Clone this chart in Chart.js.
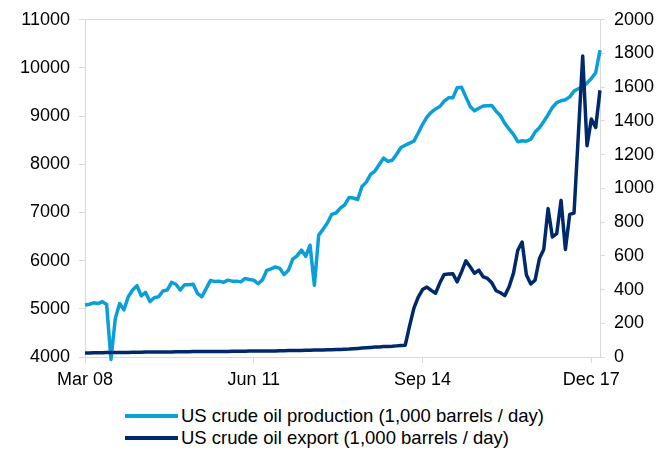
<!DOCTYPE html>
<html lang="en">
<head>
<meta charset="UTF-8">
<title>US crude oil production and export</title>
<script src="https://cdn.jsdelivr.net/npm/chart.js"></script>
<style>
    body { margin: 0; background: #fff; font-family: "Liberation Sans", Arial, sans-serif; }
    #janela { position: relative; width: 671px; height: 450px; }
    #grafico { position: absolute; left: 0; top: 0; width: 671px; height: 395px; }
    .legenda { position: absolute; left: 125px; height: 22px; display: flex; align-items: center; font-size: 18.5px; color: #000; white-space: nowrap; }
    .legenda span.linha { display: inline-block; width: 53px; height: 4px; margin-right: 3px; }
</style>
</head>
<body>
<div id="janela">
    <div id="grafico"><canvas id="myChartCanvas"></canvas></div>
    <div class="legenda" style="top:405px"><span class="linha" style="background:#0a9fd9"></span>US crude oil production (1,000 barrels / day)</div>
    <div class="legenda" style="top:427px"><span class="linha" style="background:#00296b"></span>US crude oil export (1,000 barrels / day)</div>
</div>

<script>
    // monthly, Mar 2008 - Feb 2018
    const inicio = { ano: 2008, mes: 2 };
    const nMeses = 120;
    const meses = ['Jan','Feb','Mar','Apr','May','Jun','Jul','Aug','Sep','Oct','Nov','Dec'];

    const tickLabels = ['Mar 08', 'Jun 11', 'Sep 14', 'Dec 17'];

    // left axis
    const producao = [
        5080, 5095, 5125, 5110, 5150, 5090, 3950, 4800, 5110, 4980,
        5250, 5390, 5480, 5270, 5340, 5150, 5230, 5250, 5370, 5390,
        5550, 5510, 5390, 5500, 5500, 5510, 5320, 5250, 5420, 5590,
        5565, 5575, 5550, 5595, 5575, 5575, 5560, 5630, 5610, 5595,
        5520, 5600, 5800, 5830, 5870, 5840, 5710, 5800, 6030, 6100,
        6220, 6090, 6320, 5490, 6530, 6650, 6780, 6960, 6990, 7090,
        7160, 7310, 7300, 7270, 7540, 7630, 7790, 7860, 7995, 8130,
        8060, 8085, 8210, 8350, 8395, 8440, 8480, 8650, 8830, 8980,
        9080, 9150, 9200, 9310, 9380, 9380, 9590, 9600, 9400, 9200,
        9110, 9165, 9210, 9215, 9220, 9100, 9010, 8850, 8730, 8620,
        8470, 8490, 8480, 8520, 8670, 8760, 8890, 9030, 9180, 9280,
        9320, 9340, 9400, 9520, 9570, 9600, 9690, 9780, 9900, 10370
    ];

    // right axis
    const exportacao = [
        24, 24, 25, 25, 25, 26, 26, 26, 27, 27,
        27, 28, 28, 28, 29, 29, 29, 30, 30, 30,
        30, 31, 31, 31, 31, 32, 32, 32, 32, 33,
        33, 33, 33, 33, 34, 34, 34, 34, 35, 35,
        35, 35, 36, 36, 36, 37, 37, 38, 38, 39,
        39, 40, 40, 41, 41, 42, 43, 43, 44, 45,
        46, 47, 49, 51, 53, 55, 57, 59, 60, 62,
        63, 64, 66, 68, 70, 185, 290, 355, 400, 415,
        395, 378, 440, 490, 492, 494, 446, 505, 570, 535,
        496, 515, 476, 466, 440, 393, 381, 364, 417, 496,
        633, 682, 486, 433, 456, 584, 638, 880, 712, 732,
        929, 638, 846, 854, 1320, 1785, 1253, 1411, 1361, 1582
    ];

    let labels = [];
    for (let i = 0; i < nMeses; i++) {
        let m = (inicio.mes + i) % 12;
        let a = inicio.ano + Math.floor((inicio.mes + i) / 12);
        labels.push(meses[m] + ' ' + String(a).slice(2));
    }

    const cinza = '#d9d9d9';
    const fonte = { family: '"Liberation Sans", Arial, sans-serif', size: 18 };

    function semVirgula(v) { return String(v); }

    let dados = {
        labels: labels,
        datasets: [{
            label: 'US crude oil production (1,000 barrels / day)',
            data: producao,
            yAxisID: 'y',
            borderColor: '#0a9fd9',
            backgroundColor: '#0a9fd9',
            borderWidth: 3.5,
            pointRadius: 0,
            tension: 0,
            borderJoinStyle: 'round',
            clip: { left: 2, top: 2, right: 3, bottom: 4 },
            order: 2
        },
        {
            label: 'US crude oil export (1,000 barrels / day)',
            data: exportacao,
            yAxisID: 'y1',
            borderColor: '#00296b',
            backgroundColor: '#00296b',
            borderWidth: 3.5,
            pointRadius: 0,
            tension: 0,
            borderJoinStyle: 'round',
            order: 1
        }]
    };

    const config = {
        type: 'line',
        data: dados,
        options: {
            responsive: true,
            maintainAspectRatio: false,
            animation: false,
            layout: { padding: { top: 18, left: 0, right: 0, bottom: 0 } },
            plugins: { legend: { display: false }, tooltip: { enabled: false } },
            scales: {
                x: {
                    offset: false,
                    border: { color: cinza, width: 1 },
                    grid: { drawOnChartArea: false, tickLength: 6, color: cinza },
                    ticks: {
                        autoSkip: false,
                        maxRotation: 0,
                        padding: 6,
                        color: '#000',
                        font: fonte,
                        callback: function (v, i) {
                            let l = labels[i];
                            return tickLabels.includes(l) ? l : null;
                        }
                    },
                    afterFit: function (s) { s.height = 38; }
                },
                y: {
                    position: 'left',
                    min: 4000,
                    max: 11000,
                    border: { color: cinza, width: 1 },
                    grid: {
                        tickLength: 6,
                        tickColor: cinza,
                        color: function (ctx) { return ctx.tick && ctx.tick.value === 11000 ? cinza : 'rgba(0,0,0,0)'; }
                    },
                    ticks: { stepSize: 1000, padding: 9, color: '#000', font: fonte, callback: semVirgula },
                    afterFit: function (s) { s.width = 85; }
                },
                y1: {
                    position: 'right',
                    min: 0,
                    max: 2000,
                    border: { color: cinza, width: 1 },
                    grid: { drawOnChartArea: false, tickLength: 5, color: cinza },
                    ticks: { stepSize: 200, padding: 9, color: '#000', font: fonte, callback: semVirgula },
                    afterFit: function (s) { s.width = 71; }
                }
            }
        }
    };

    let myChart = new Chart(document.getElementById('myChartCanvas'), config);
</script>
</body>
</html>
